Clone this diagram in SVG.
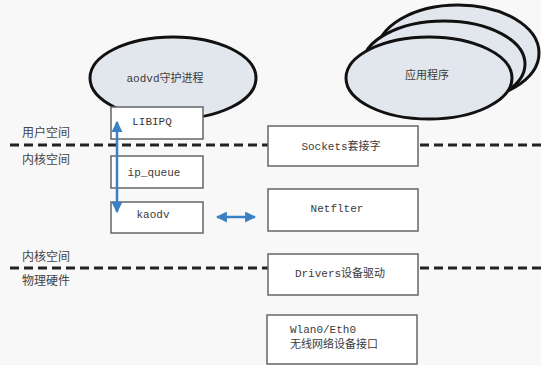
<svg xmlns="http://www.w3.org/2000/svg" width="541" height="365" viewBox="0 0 541 365">
<style>
.bg{fill:#f8f8f8}
.ell{fill:#e2e7ed;stroke:#111;stroke-width:3}
.box{fill:#fff;stroke:#666;stroke-width:1.5}
.t{font-family:"Liberation Mono","Noto Sans CJK SC",monospace;font-size:11px;fill:#3a3a3a}
.lbl{font-family:"Noto Sans CJK SC",sans-serif;font-size:12px;fill:#444}
.dash{stroke:#222;stroke-width:3;stroke-dasharray:9 5;fill:none}
.arr{stroke:#3a80c3;stroke-width:2.5;fill:none}
</style>
<defs>
<marker id="ah" viewBox="0 0 10 10" refX="9" refY="5" markerWidth="4.4" markerHeight="4.4" orient="auto-start-reverse" markerUnits="strokeWidth">
<path d="M0,0 L10,5 L0,10 z" fill="#3a80c3"/>
</marker>
</defs>
<rect class="bg" x="0" y="0" width="541" height="365"/>
<g id="labels">
<text class="lbl" x="22" y="137">用户空间</text>
<text class="lbl" x="22" y="164">内核空间</text>
<text class="lbl" x="22" y="261">内核空间</text>
<text class="lbl" x="22" y="285">物理硬件</text>
</g>
<g id="separators">
<line class="dash" x1="10" y1="145" x2="268" y2="145"/>
<line class="dash" x1="420" y1="145" x2="541" y2="145"/>
<line class="dash" x1="10" y1="268" x2="268" y2="268"/>
<line class="dash" x1="420" y1="268" x2="541" y2="268"/>
</g>
<g id="aodvd">
<ellipse class="ell" cx="173" cy="78" rx="83" ry="41"/>
<text class="t" x="165" y="82" text-anchor="middle">aodvd守护进程</text>
</g>
<g id="apps">
<ellipse class="ell" cx="458" cy="53" rx="81" ry="48"/>
<ellipse class="ell" cx="444" cy="64" rx="81" ry="43"/>
<ellipse class="ell" cx="429" cy="78" rx="83" ry="41"/>
<text class="t" x="427" y="79" text-anchor="middle">应用程序</text>
</g>
<g id="libipq">
<rect class="box" x="111" y="107" width="92" height="32"/>
<text class="t" x="152" y="125" text-anchor="middle">LIBIPQ</text>
</g>
<g id="ip_queue">
<rect class="box" x="111" y="156" width="92" height="32"/>
<text class="t" x="154" y="176" text-anchor="middle">ip_queue</text>
</g>
<g id="kaodv">
<rect class="box" x="111" y="202" width="92" height="31"/>
<text class="t" x="153" y="218" text-anchor="middle">kaodv</text>
</g>
<g id="sockets">
<rect class="box" x="268" y="126" width="150" height="40"/>
<text class="t" x="341" y="150" text-anchor="middle">Sockets套接字</text>
</g>
<g id="netfilter">
<rect class="box" x="268" y="189" width="150" height="42"/>
<text class="t" x="337" y="212" text-anchor="middle">Netflter</text>
</g>
<g id="drivers">
<rect class="box" x="268" y="254" width="150" height="41"/>
<text class="t" x="340" y="277" text-anchor="middle">Drivers设备驱动</text>
</g>
<g id="wlan">
<rect class="box" x="267" y="315" width="150" height="49"/>
<text class="t" x="290" y="333">Wlan0/Eth0</text>
<text class="t" x="290" y="348">无线网络设备接口</text>
</g>
<g id="connectors">
<line class="arr" x1="117" y1="122" x2="117" y2="212" marker-start="url(#ah)" marker-end="url(#ah)"/>
<line class="arr" x1="217" y1="217" x2="255" y2="217" marker-start="url(#ah)" marker-end="url(#ah)"/>
</g>
</svg>
